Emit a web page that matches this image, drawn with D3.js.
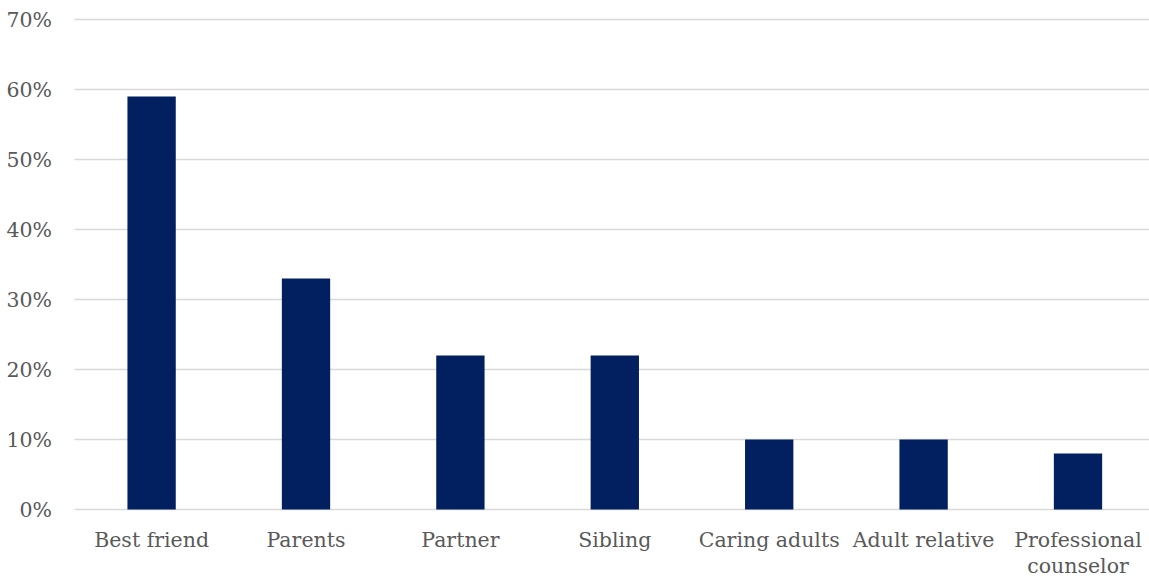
<!DOCTYPE html>
<html>
<head>
<meta charset="utf-8">
<script src="https://cdn.jsdelivr.net/npm/d3@7"></script>
<style>
  html, body { margin: 0; padding: 0; background: #fff; }
  svg { display: block; }
  text { font-family: Georgia, "DejaVu Serif", "Liberation Serif", serif; fill: #595959; }
</style>
</head>
<body>
<svg id="chart" width="1149" height="577"></svg>
<script>
// Who young people turn to for support (share of respondents)
const categories = ["Best friend", "Parents", "Partner", "Sibling", "Caring adults", "Adult relative", "Professional counselor"];
const shares = [0.59, 0.33, 0.22, 0.22, 0.10, 0.10, 0.08];
const yTicks = [0, 0.1, 0.2, 0.3, 0.4, 0.5, 0.6, 0.7];

const svg = d3.select("#chart");
const margin = { top: 19.5, left: 74.4, bottom: 67.5 };
const plotBottom = 577 - margin.bottom;
const bandStep = 154.4;

const x = d3.scaleBand()
  .domain(categories)
  .range([margin.left, margin.left + bandStep * categories.length])
  .paddingInner(0.687)
  .paddingOuter(0.3435);

const y = d3.scaleLinear()
  .domain([0, 0.7])
  .range([plotBottom, margin.top]);

// horizontal gridlines
svg.append("g")
  .selectAll("line")
  .data(yTicks)
  .join("line")
  .attr("x1", margin.left)
  .attr("x2", 1149)
  .attr("y1", d => y(d))
  .attr("y2", d => y(d))
  .attr("stroke", "#d9d9d9")
  .attr("stroke-width", 1.5);

// y axis labels
const yAxis = d3.axisLeft(y)
  .tickValues(yTicks)
  .tickFormat(d3.format(".0%"))
  .tickSize(0)
  .tickPadding(0);
const yG = svg.append("g")
  .attr("transform", "translate(52,0)")
  .call(yAxis);
yG.select(".domain").remove();
yG.selectAll("text")
  .attr("font-size", 20.5)
  .attr("font-family", null)
  .attr("fill", "#595959");

// bars
svg.append("g")
  .selectAll("rect")
  .data(categories.map((c, i) => ({ c, v: shares[i] })))
  .join("rect")
  .attr("x", d => x(d.c))
  .attr("width", x.bandwidth())
  .attr("y", d => y(d.v))
  .attr("height", d => y(0) - y(d.v))
  .attr("fill", "#022060");

// x axis labels, wrapped onto two lines where needed
const xAxis = d3.axisBottom(x).tickSize(0).tickPadding(0);
const xG = svg.append("g")
  .attr("transform", `translate(0,${plotBottom})`)
  .call(xAxis);
xG.select(".domain").remove();
xG.selectAll("text")
  .attr("font-size", 20.5)
  .attr("font-family", null)
  .attr("fill", "#595959")
  .attr("dy", null)
  .attr("y", 37)
  .each(function(d) {
    const t = d3.select(this);
    if (d === "Professional counselor") {
      t.text(null);
      t.append("tspan").attr("x", 0).attr("y", 37).text("Professional");
      t.append("tspan").attr("x", 0).attr("y", 63).text("counselor");
    }
  });
</script>
</body>
</html>
